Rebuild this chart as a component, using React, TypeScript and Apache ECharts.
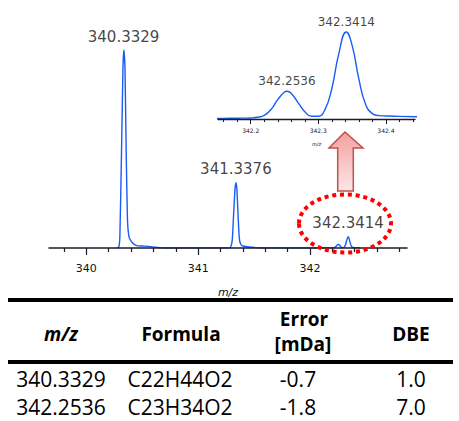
import React, { useEffect, useRef } from "react";
import * as echarts from "echarts";

// ---- spectrum data (m/z, relative intensity %) ----
const peak340 = [
  [340.27, 0], [340.29, 0.5], [340.3, 6], [340.315, 50], [340.328, 92], [340.336, 100],
  [340.346, 90], [340.356, 50], [340.368, 14], [340.38, 6], [340.395, 4], [340.42, 2.2],
  [340.45, 1.2], [340.5, 1], [340.56, 0.8], [340.62, 0.4], [340.7, 0],
];
const peak341 = [
  [341.27, 0], [341.29, 0.4], [341.305, 4], [341.318, 18], [341.33, 30], [341.338, 33],
  [341.346, 30], [341.356, 18], [341.368, 5], [341.38, 2], [341.4, 1], [341.44, 0.6],
  [341.5, 0.3], [341.56, 0],
];
const cluster342 = [
  [342.14, 0.03], [342.16, 0.04], [342.18, 0.05], [342.2, 0.07], [342.21, 0.11], [342.22, 0.24],
  [342.23, 0.62], [342.24, 1.26], [342.25, 1.76], [342.2536, 1.81], [342.26, 1.67], [342.27, 1.07],
  [342.28, 0.48], [342.29, 0.18], [342.3, 0.18], [342.31, 0.63], [342.32, 1.99], [342.33, 4.2],
  [342.3414, 5.67], [342.35, 4.8], [342.36, 2.6], [342.37, 0.95], [342.38, 0.35], [342.39, 0.22],
  [342.4, 0.2], [342.42, 0.17], [342.45, 0.14],
];
const mainPeakLabels = [
  { name: "340.3329", value: [340.3329, 100] },
  { name: "341.3376", value: [341.3376, 33] },
  { name: "342.3414", value: [342.3414, 5.67] },
];
const insetPeakLabels = [
  { name: "342.2536", value: [342.2536, 1.81] },
  { name: "342.3414", value: [342.3414, 5.67] },
];

// ---- axis ticks ----
const mainRange = [339.666, 342.868];
const mainMajorTicks = [340, 341, 342];
const mainMinorTicks = [339.8, 340.2, 340.4, 340.6, 340.8, 341.2, 341.4, 341.6, 341.8, 342.2, 342.4, 342.6, 342.8];
const insetRange = [342.1516, 342.443];
const insetMajorTicks = [342.2, 342.3, 342.4];
const insetMinorTicks = [342.16, 342.18, 342.22, 342.24, 342.26, 342.28, 342.32, 342.34, 342.36, 342.38, 342.42, 342.44];

// ---- table ----
const tableHeaders = ["m/z", "Formula", "Error", "[mDa]", "DBE"];
const tableMz = ["340.3329", "342.2536"];
const tableFormula = ["C22H44O2", "C23H34O2"];
const tableError = ["-0.7", "-1.8"];
const tableDbe = ["1.0", "7.0"];

const BLUE = "#1a5cf5";
const AXIS = "#1c1c28";
const TEXT = "#111";
const CHART_FONT = "DejaVu Sans";
const TABLE_FONT = '"Open Sans"';

export default function App() {
  const ref = useRef<HTMLDivElement>(null);
  useEffect(() => {
    if (!ref.current) return;
    const chart = echarts.init(ref.current, null, { renderer: "svg" });
    const mainSpectrum = [...peak340, ...peak341, ...cluster342];

    const tableTexts: any[] = [];
    const colX = [61, 180, 298, 411];
    const hdrX = [61, 181, 304, 303, 411];
    const hdrY = [334, 334, 318.5, 343.5, 334];
    tableHeaders.forEach((h, j) => {
      tableTexts.push({
        type: "text",
        x: hdrX[j],
        y: hdrY[j],
        style: {
          text: h,
          fill: "#000",
          font: `${j === 0 ? "italic " : ""}bold 19px ${TABLE_FONT}`,
          lineHeight: 20,
          align: "center",
          verticalAlign: "middle",
        },
      });
    });
    const rowY = [379, 407];
    tableMz.forEach((_, i) => {
      [tableMz[i], tableFormula[i], tableError[i], tableDbe[i]].forEach((t, j) => {
        tableTexts.push({
          type: "text",
          x: colX[j],
          y: rowY[i],
          style: {
            text: t,
            fill: "#000",
            font: `21px ${TABLE_FONT}`,
            lineHeight: 22,
            align: "center",
            verticalAlign: "middle",
          },
        });
      });
    });

    const option: any = {
      animation: false,
      backgroundColor: "#fff",
      grid: [
        { left: 49, top: 50, width: 358, height: 198 },
        { left: 218, top: 27, width: 197, height: 92 },
      ],
      xAxis: [
        {
          gridIndex: 0,
          type: "value",
          position: "bottom",
          min: mainRange[0],
          max: mainRange[1],
          z: 5,
          axisLine: { onZero: false, lineStyle: { color: AXIS, width: 1.6 } },
          axisTick: { customValues: mainMajorTicks, length: 7, lineStyle: { color: AXIS, width: 1.2 } },
          axisLabel: {
            customValues: mainMajorTicks,
            fontSize: 11,
            fontFamily: CHART_FONT,
            color: TEXT,
            margin: 15,
          },
          splitLine: { show: false },
          name: "m/z",
          nameLocation: "middle",
          nameGap: 39,
          nameTextStyle: { fontSize: 11, fontStyle: "italic", fontFamily: CHART_FONT, color: TEXT },
        },
        {
          gridIndex: 0,
          type: "value",
          position: "bottom",
          min: mainRange[0],
          max: mainRange[1],
          z: 5,
          axisLine: { show: false, onZero: false },
          axisTick: { customValues: mainMinorTicks, length: 4, lineStyle: { color: AXIS, width: 1.2 } },
          axisLabel: { show: false },
          splitLine: { show: false },
        },
        {
          gridIndex: 1,
          type: "value",
          position: "bottom",
          min: insetRange[0],
          max: insetRange[1],
          z: 5,
          axisLine: { onZero: false, lineStyle: { color: AXIS, width: 1.4 } },
          axisTick: { customValues: insetMajorTicks, length: 5, lineStyle: { color: AXIS, width: 1 } },
          axisLabel: {
            customValues: insetMajorTicks,
            fontSize: 6,
            fontFamily: CHART_FONT,
            color: "#222",
            margin: 8,
            formatter: (v: number) => v.toFixed(1),
          },
          splitLine: { show: false },
          name: "m/z",
          nameLocation: "middle",
          nameGap: 22,
          nameTextStyle: { fontSize: 5, fontStyle: "italic", fontFamily: CHART_FONT, color: "#222" },
        },
        {
          gridIndex: 1,
          type: "value",
          position: "bottom",
          min: insetRange[0],
          max: insetRange[1],
          z: 5,
          axisLine: { show: false, onZero: false },
          axisTick: { customValues: insetMinorTicks, length: 3, lineStyle: { color: AXIS, width: 1 } },
          axisLabel: { show: false },
          splitLine: { show: false },
        },
      ],
      yAxis: [
        { gridIndex: 0, type: "value", min: 0, max: 100, show: false },
        { gridIndex: 1, type: "value", min: 0, max: 6, show: false },
      ],
      series: [
        {
          type: "line",
          xAxisIndex: 0,
          yAxisIndex: 0,
          data: mainSpectrum,
          showSymbol: false,
          smooth: 0.2,
          lineStyle: { color: BLUE, width: 1.4 },
          z: 2,
        },
        {
          type: "line",
          xAxisIndex: 2,
          yAxisIndex: 1,
          data: cluster342,
          showSymbol: false,
          smooth: true,
          lineStyle: { color: BLUE, width: 1.4 },
          z: 2,
        },
        {
          type: "scatter",
          xAxisIndex: 0,
          yAxisIndex: 0,
          data: mainPeakLabels,
          symbolSize: 0,
          label: {
            show: true,
            position: "top",
            distance: 6,
            formatter: "{b}",
            fontSize: 15,
            fontFamily: CHART_FONT,
            color: TEXT,
          },
          z: 6,
        },
        {
          type: "scatter",
          xAxisIndex: 2,
          yAxisIndex: 1,
          data: insetPeakLabels,
          symbolSize: 0,
          label: {
            show: true,
            position: "top",
            distance: 4,
            formatter: "{b}",
            fontSize: 12,
            fontFamily: CHART_FONT,
            color: TEXT,
          },
          z: 6,
        },
      ],
      graphic: [
        {
          type: "polygon",
          z: 10,
          shape: {
            points: [
              [345, 132], [363, 148], [353.3, 148], [353.3, 191], [337.7, 191], [337.7, 148], [329, 148],
            ],
          },
          style: {
            fill: new echarts.graphic.LinearGradient(0, 0, 0, 1, [
              { offset: 0, color: "#f4a0a0" },
              { offset: 1, color: "#fde6e6" },
            ]),
            stroke: "#c0504d",
            lineWidth: 1.5,
          },
        },
        {
          type: "ellipse",
          z: 10,
          shape: { cx: 345, cy: 223.5, rx: 46, ry: 29 },
          style: { fill: "none", stroke: "#ff0000", lineWidth: 4, lineDash: [4, 3.8] },
        },
        { type: "rect", shape: { x: 8, y: 298, width: 445, height: 4 }, style: { fill: "#000" } },
        { type: "rect", shape: { x: 8, y: 360, width: 445, height: 4 }, style: { fill: "#000" } },
        ...tableTexts,
      ],
    };
    chart.setOption(option);
    return () => chart.dispose();
  }, []);
  return (
    <div
      ref={ref}
      style={{ position: "fixed", left: 0, top: 0, width: 459, height: 421, background: "#fff" }}
    />
  );
}
